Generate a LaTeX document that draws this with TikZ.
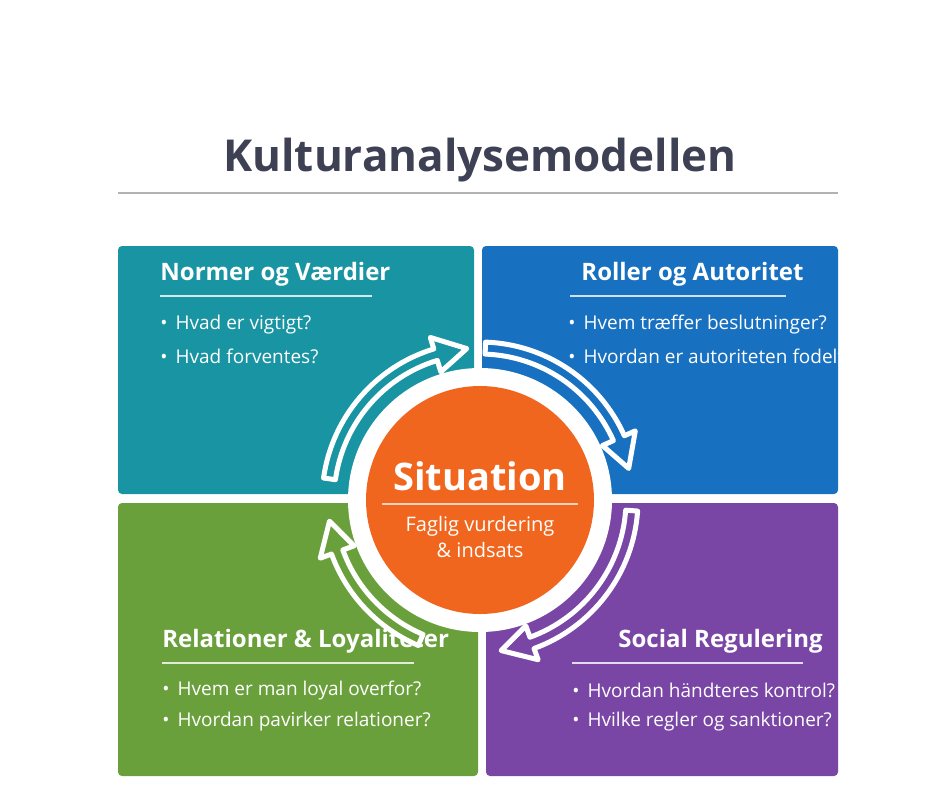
\documentclass[tikz,border=0pt]{standalone}
\usepackage{fontspec}
\setmainfont{Open Sans}
\usepackage{xcolor}
\definecolor{myteal}{RGB}{24,148,162}
\definecolor{myblue}{RGB}{24,112,192}
\definecolor{mygreen}{RGB}{106,160,60}
\definecolor{mypurple}{RGB}{122,70,166}
\definecolor{myorange}{RGB}{240,102,30}
\definecolor{mytitle}{RGB}{62,64,84}
\usetikzlibrary{calc}
\newcommand{\CycArrow}[3]{
\filldraw[fill=#1,draw=white,line width=2.5pt,line join=round]
 ($(C)+(#2:79pt)$) arc[start angle=#2,end angle=#3+12,radius=79pt]
 -- ($(C)+(#3+12:85pt)$) -- ($(C)+(#3:76pt)$) -- ($(C)+(#3+12:67pt)$)
 -- ($(C)+(#3+12:73pt)$) arc[start angle=#3+12,end angle=#2,radius=73pt] -- cycle;}

\begin{document}
\begin{tikzpicture}[x=0.5pt,y=0.5pt]
	\tikzstyle{quad}=[rounded corners=2pt];
	\tikzstyle{head}=[anchor=west,text=white,font=\fontsize{12}{14}\selectfont\bfseries,inner sep=0pt];
	\tikzstyle{item}=[anchor=west,text=white,font=\fontsize{9.5}{12}\selectfont,inner sep=0pt];
	\useasboundingbox (0,0) rectangle (940,-788);
	%%
	\node[text=mytitle,font=\fontsize{22}{26}\selectfont\bfseries] (title) at (480,-160) {Kulturanalysemodellen};
	\draw[black!30,line width=0.6pt] (118,-193) -- (838,-193);
	%%
	\fill[quad,myteal]   (118,-246) rectangle (474,-494);
	\fill[quad,myblue]   (482,-246) rectangle (838,-494);
	\fill[quad,mygreen]  (118,-503) rectangle (478,-776);
	\fill[quad,mypurple] (486,-503) rectangle (838,-776);
	%%
	\node[head] (nv) at (160,-274) {Normer og Værdier};
	\draw[white!80!myteal,line width=0.6pt] (160,-296) -- (372,-296);
	\node[item] (nv1) at (160,-325) {•\, Hvad er vigtigt?};
	\node[item] (nv2) at (160,-356) {•\, Hvad forventes?};
	%%
	\node[head] (ra) at (581,-274) {Roller og Autoritet};
	\draw[white!80!myblue,line width=0.6pt] (570,-296) -- (786,-296);
	\node[item] (ra1) at (568,-325) {•\, Hvem træffer beslutninger?};
	\node[item] (ra2) at (568,-356) {•\, Hvordan er autoriteten fodelt?};
	%%
	\node[head] (rl) at (162,-641) {Relationer \& Loyaliteter};
	\draw[white!80!mygreen,line width=0.6pt] (162,-663) -- (414,-663);
	\node[item] (rl1) at (162,-690) {•\, Hvem er man loyal overfor?};
	\node[item] (rl2) at (162,-722) {•\, Hvordan pavirker relationer?};
	%%
	\node[head] (sr) at (618,-641) {Social Regulering};
	\draw[white!80!mypurple,line width=0.6pt] (572,-663) -- (803,-663);
	\node[item] (sr1) at (572,-690) {•\, Hvordan händteres kontrol?};
	\node[item] (sr2) at (572,-722) {•\, Hvilke regler og sanktioner?};
	%%
	\coordinate (C) at (480,-500);
	\fill[white] (C) circle (66pt);
	\CycArrow{myteal}{172}{95}
	\CycArrow{myblue}{88}{12}
	\CycArrow{mypurple}{-4}{-82}
	\CycArrow{mygreen}{247}{188}
	\fill[myorange] (C) circle (57pt);
	\node[text=white,font=\fontsize{19}{22}\selectfont\bfseries] (sit) at (480,-476) {Situation};
	\draw[white!70!myorange,line width=0.6pt] (382,-504) -- (578,-504);
	\node[text=white,font=\fontsize{10}{13}\selectfont,align=center] (fv) at (480,-537) {Faglig vurdering\\\& indsats};
\end{tikzpicture}
\end{document}
